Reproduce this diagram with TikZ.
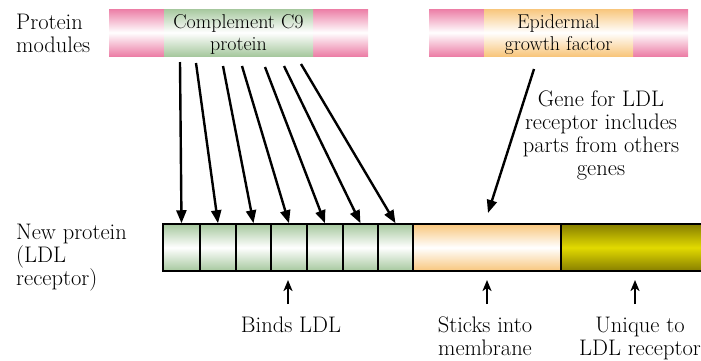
\documentclass[tikz,border=0pt]{standalone}
\usetikzlibrary{arrows.meta}
\definecolor{pinkC}{RGB}{236,126,166}
\definecolor{greenC}{RGB}{166,200,158}
\definecolor{orangeC}{RGB}{248,198,124}
\definecolor{oliveD}{RGB}{134,126,0}
\definecolor{oliveL}{RGB}{226,218,0}
\tikzset{
  lbl/.style={font=\fontsize{22.5}{23}\selectfont, align=left, inner sep=0pt, anchor=base west},
  clbl/.style={font=\fontsize{22.5}{23}\selectfont, align=center, inner sep=0pt, anchor=base},
  barlbl/.style={font=\fontsize{20}{22}\selectfont, align=center, inner sep=0pt, anchor=base},
  pinkseg/.style={shading=axis, top color=pinkC, bottom color=pinkC, middle color=white},
  greenseg/.style={shading=axis, top color=greenC, bottom color=greenC, middle color=white},
  orangeseg/.style={shading=axis, top color=orangeC, bottom color=orangeC, middle color=white},
  oliveseg/.style={shading=axis, top color=oliveD, bottom color=oliveD, middle color=oliveL},
  cell/.style={draw=black, line width=1.5pt},
  toparr/.style={line width=2.4pt, -{Triangle[length=13pt,width=10pt]}},
  botarr/.style={line width=2.2pt, -{Stealth[length=11pt,width=9pt,inset=3pt]}},
}
\begin{document}
\begin{tikzpicture}[x=1pt,y=-1pt]
\useasboundingbox (0,0) rectangle (701,360);
\clip (0,0) rectangle (701,360);
% top bar 1
\fill[pinkseg] (109,9) rectangle (164,56);
\fill[pinkseg] (313,9) rectangle (368,56);
\fill[greenseg] (164,9) rectangle (313,56);
\node[barlbl] (c9) at (238.5,50) {Complement C9\\protein};
% top bar 2
\fill[pinkseg] (429,9) rectangle (484,56);
\fill[pinkseg] (633,9) rectangle (688,56);
\fill[orangeseg] (484,9) rectangle (633,56);
\node[barlbl] (egf) at (558.5,50) {Epidermal\\growth factor};
% left labels
\node[lbl] (pm) at (16,52) {Protein\\modules};
\node[lbl] (np) at (16,285) {New protein\\(LDL\\receptor)};
% bottom bar cells
\foreach \i/\a/\b in {1/163/200,2/200/236,3/236/271,4/271/307,5/307/343,6/343/378,7/378/413}{
  \path[greenseg] (\a,224) rectangle (\b,271);
  \node[cell, minimum width={\b-\a}, minimum height=47, inner sep=0pt] (c\i) at ({(\a+\b)/2},247.5) {};
}
\path[orangeseg] (413,224) rectangle (561,271);
\node[cell, minimum width=148, minimum height=47, inner sep=0pt] (mem) at (487,247.5) {};
\path[oliveseg] (561,224) rectangle (710,271);
\node[cell, minimum width=149, minimum height=47, inner sep=0pt] (uniq) at (635.5,247.5) {};
% arrow starts
\coordinate (s1) at (180,62);
\coordinate (s2) at (196,63);
\coordinate (s3) at (223,66);
\coordinate (s4) at (242,66);
\coordinate (s5) at (265,67);
\coordinate (s6) at (284,66);
\coordinate (s7) at (301,64);
\foreach \i in {1,...,7}{ \draw[toparr] (s\i) -- (c\i.north); }
% epidermal arrow
\coordinate (e1) at (534,69);
\coordinate (e2) at (488,213);
\draw[toparr] (e1) -- (e2);
\node[clbl] (gene) at (601,175) {Gene for LDL\\receptor includes\\parts from others\\genes};
% bottom labels and arrows
\node[clbl] (binds) at (291,332) {Binds LDL};
\node[clbl] (sticks) at (485,355) {Sticks into\\membrane};
\node[clbl] (unique) at (640,355) {Unique to\\LDL receptor};
\coordinate (b1t) at (288,304); \coordinate (b1h) at (288,280);
\coordinate (b2t) at (487,304); \coordinate (b2h) at (487,280);
\coordinate (b3t) at (635,304); \coordinate (b3h) at (635,280);
\draw[botarr] (b1t) -- (b1h);
\draw[botarr] (b2t) -- (b2h);
\draw[botarr] (b3t) -- (b3h);
\end{tikzpicture}
\end{document}
